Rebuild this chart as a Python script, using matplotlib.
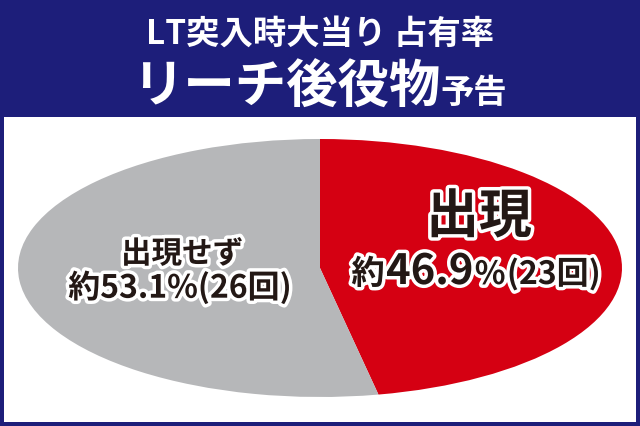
import matplotlib
matplotlib.use("Agg")
import matplotlib.pyplot as plt
import matplotlib.patheffects as pe
from matplotlib.patches import Rectangle
from matplotlib.offsetbox import TextArea, HPacker, AnnotationBbox

plt.rcParams['font.family'] = ['Noto Sans CJK JP', 'DejaVu Sans']

NAVY = "#1d1e7a"
RED = "#d50012"
GRAY = "#b6b7b9"
INK = "#231815"
WT = "bold"

# data
labels = ["出現", "出現せず"]
shares = [46.9, 53.1]
counts = [23, 26]
colors = [RED, GRAY]

title_top = "LT突入時大当り 占有率"
title_main = "リーチ後役物"
title_sub = "予告"

W, H = 640, 427
fig = plt.figure(figsize=(6.4, 4.27), dpi=100)
fig.patch.set_facecolor(NAVY)

def fx(px):
    return px / W

def fy(py):
    return 1 - py / H

# white panel
fig.add_artist(Rectangle((fx(4), fy(423)), fx(632), (423 - 118) / H,
                         transform=fig.transFigure, facecolor="white",
                         edgecolor="none", zorder=0))

# title
fig.text(0.5, fy(34), title_top, ha="center", va="center", color="white",
         fontsize=24, fontweight=WT)
t1 = TextArea(title_main, textprops=dict(color="white", fontsize=37, fontweight=WT))
t2 = TextArea(title_sub, textprops=dict(color="white", fontsize=24, fontweight=WT))
box = HPacker(children=[t1, t2], align="baseline", pad=0, sep=0)
fig.add_artist(AnnotationBbox(box, (0.5, fy(87)), xycoords="figure fraction",
                              frameon=False, box_alignment=(0.5, 0.5)))

# pie stretched into an ellipse
ax = fig.add_axes([fx(18), fy(398), fx(604), (398 - 140) / H])
ax.pie(shares, colors=colors, startangle=90, counterclock=False,
       wedgeprops=dict(linewidth=0))
ax.set_aspect("auto")
ax.set_xlim(-1, 1)
ax.set_ylim(-1, 1)
ax.axis("off")

stroke = [pe.withStroke(linewidth=5, foreground="white")]

def tp(size):
    return dict(color=INK, fontsize=size, fontweight=WT, path_effects=stroke)

# right label
fig.text(fx(479), fy(218), labels[0], ha="center", va="center", **tp(38))
parts = [TextArea("約", textprops=tp(24)),
         TextArea(f"{shares[0]}", textprops=tp(30)),
         TextArea("%", textprops=tp(23)),
         TextArea(f"({counts[0]}回)", textprops=tp(23))]
rbox = HPacker(children=parts, align="baseline", pad=0, sep=1)
fig.add_artist(AnnotationBbox(rbox, (fx(476), fy(273)), xycoords="figure fraction",
                              frameon=False, box_alignment=(0.5, 0.5)))

# left label
fig.text(fx(182), fy(255), labels[1], ha="center", va="center", **tp(22))
fig.text(fx(180), fy(289), f"約{shares[1]}%({counts[1]}回)", ha="center",
         va="center", **tp(23))

fig.savefig("out.png", dpi=100, facecolor=fig.get_facecolor())
